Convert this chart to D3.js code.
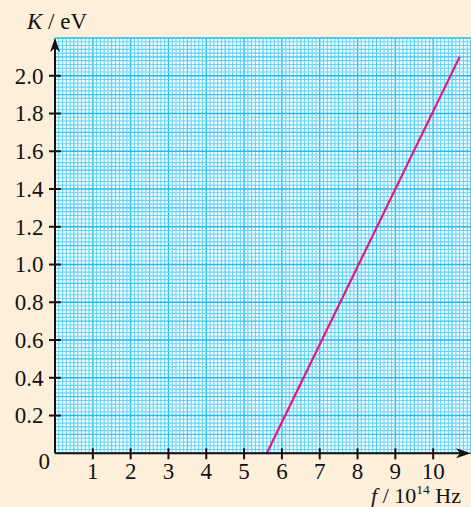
<!DOCTYPE html>
<html><head><meta charset="utf-8">
<script src="https://cdn.jsdelivr.net/npm/d3@7"></script>
<style>html,body{margin:0;padding:0;background:#fdefd9;}svg{display:block;}</style>
</head><body>
<script>
const xTicks = [1,2,3,4,5,6,7,8,9,10];
const yTicks = [0.2,0.4,0.6,0.8,1.0,1.2,1.4,1.6,1.8,2.0];
const lineF = [5.6, 10.7];
const lineK = [0, 2.1];

const W = 471, H = 507;
const svg = d3.select("body").append("svg").attr("width", W).attr("height", H);
svg.append("rect").attr("width", W).attr("height", H).attr("fill", "#fdefd9");

const x = d3.scaleLinear().domain([0, 11]).range([55, 471]);
const y = d3.scaleLinear().domain([0, 2.2]).range([453.3, 38]);

// grid
const g = svg.append("g");
g.append("rect").attr("x", x(0)).attr("y", y(2.2)).attr("width", x(11)-x(0)).attr("height", y(0)-y(2.2)).attr("fill", "#f4fcff");
const minorX = d3.range(0, 111).map(i => i/10);
const minorY = d3.range(0, 111).map(i => i/50);
const col = i => i % 10 === 0 ? "#22bbee" : (i % 5 === 0 ? "#3cc6f2" : "#66d3f6");
minorX.forEach((v,i) => {
  g.append("line").attr("x1", x(v)).attr("x2", x(v)).attr("y1", y(0)).attr("y2", y(2.2))
    .attr("stroke", col(i)).attr("stroke-width", i % 10 === 0 ? 1.4 : 1.1);
});
minorY.forEach((v,i) => {
  g.append("line").attr("y1", y(v)).attr("y2", y(v)).attr("x1", x(0)).attr("x2", x(11))
    .attr("stroke", col(i)).attr("stroke-width", i % 10 === 0 ? 1.4 : 1.1);
});

// data line
svg.append("path").datum(lineF.map((f,i)=>[f, lineK[i]]))
  .attr("d", d3.line().x(d=>x(d[0])).y(d=>y(d[1])))
  .attr("stroke", "#e5177f").attr("stroke-width", 2.2).attr("fill", "none");

// axes
const ax = svg.append("g").attr("stroke", "#111").attr("stroke-width", 2);
ax.append("line").attr("x1", x(0)).attr("x2", 462).attr("y1", y(0)).attr("y2", y(0));
ax.append("line").attr("x1", x(0)).attr("x2", x(0)).attr("y1", y(0)).attr("y2", 48);
svg.append("path").attr("d", `M${x(0)},38 L${x(0)-5},52 L${x(0)},48 L${x(0)+5},52 Z`).attr("fill", "#111");
svg.append("path").attr("d", `M471,${y(0)} L456,${y(0)-5} L460,${y(0)} L456,${y(0)+5} Z`).attr("fill", "#111");

xTicks.forEach(t => {
  ax.append("line").attr("x1", x(t)).attr("x2", x(t)).attr("y1", y(0)-5).attr("y2", y(0)+6);
});
yTicks.forEach(t => {
  ax.append("line").attr("x1", x(0)-6).attr("x2", x(0)+6).attr("y1", y(t)).attr("y2", y(t));
});

const font = "'Liberation Serif', 'Times New Roman', serif";
const txt = svg.append("g").attr("font-family", font).attr("font-size", 23).attr("fill", "#111");
xTicks.forEach(t => {
  txt.append("text").attr("x", x(t)).attr("y", 478.5).attr("text-anchor", "middle").text(t);
});
yTicks.forEach(t => {
  txt.append("text").attr("x", 43.5).attr("y", y(t)).attr("dy", "0.34em").attr("text-anchor", "end").text(t.toFixed(1));
});
txt.append("text").attr("x", 50).attr("y", 469).attr("text-anchor", "end").text("0");

const kt = txt.append("text").attr("x", 27).attr("y", 29);
kt.append("tspan").attr("font-style", "italic").text("K");
kt.append("tspan").text(" / eV");

const ft = txt.append("text").attr("x", 461).attr("y", 502.5).attr("text-anchor", "end").attr("font-size", 22);
ft.append("tspan").attr("font-style", "italic").text("f");
ft.append("tspan").text(" / 10");
ft.append("tspan").attr("font-size", 13.5).attr("dy", -8.5).text("14");
ft.append("tspan").attr("dy", 8.5).text(" Hz");
</script>
</body></html>
